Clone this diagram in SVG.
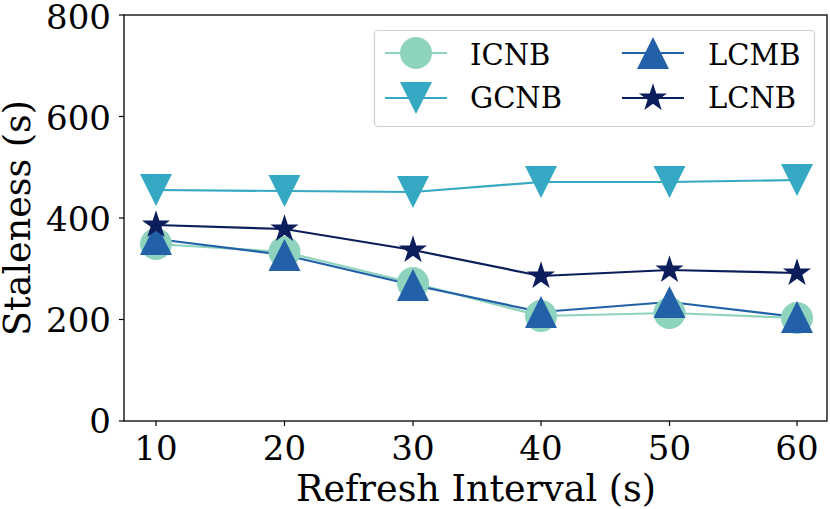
<svg xmlns="http://www.w3.org/2000/svg" width="830" height="509" viewBox="0 0 830 509">
<style>
text{font-family:"DejaVu Serif","Liberation Serif",serif;fill:#000}
.tick{font-size:34px}
.lab{font-size:36.5px}
.leg{font-size:29px}
.ax{stroke:#000;stroke-width:1.3;fill:none}
.s1{stroke:#8ed3be;fill:#8ed3be}
.s2{stroke:#35a8c4;fill:#35a8c4}
.s3{stroke:#2260a8;fill:#2260a8}
.s4{stroke:#0b1d5a;fill:#0b1d5a}
.ln{fill:none;stroke-width:2.2}
.mk{stroke:none}
</style>
<defs>
<circle id="circ" r="16"/>
<path id="tdown" d="M-16,-16 L16,-16 L0,16 Z"/>
<path id="tup" d="M-16,16 L16,16 L0,-16 Z"/>
<path id="star" d="M0,-14.8 L3.32,-4.57 L14.08,-4.57 L5.38,1.75 L8.7,11.97 L0,5.65 L-8.7,11.97 L-5.38,1.75 L-14.08,-4.57 L-3.32,-4.57 Z"/>
</defs>
<rect width="830" height="509" fill="#fff"/>
<g id="axes">
<rect class="ax" x="124" y="15" width="703" height="406"/>
<g stroke="#000" stroke-width="1.2">
<line x1="119" y1="15" x2="124" y2="15"/>
<line x1="119" y1="116.5" x2="124" y2="116.5"/>
<line x1="119" y1="218" x2="124" y2="218"/>
<line x1="119" y1="319.5" x2="124" y2="319.5"/>
<line x1="119" y1="421" x2="124" y2="421"/>
<line x1="156" y1="421" x2="156" y2="426"/>
<line x1="284.5" y1="421" x2="284.5" y2="426"/>
<line x1="413" y1="421" x2="413" y2="426"/>
<line x1="541" y1="421" x2="541" y2="426"/>
<line x1="669.5" y1="421" x2="669.5" y2="426"/>
<line x1="797" y1="421" x2="797" y2="426"/>
</g>
<g class="tick" text-anchor="end">
<text x="111" y="29">800</text>
<text x="111" y="130">600</text>
<text x="111" y="231">400</text>
<text x="111" y="332">200</text>
<text x="111" y="433">0</text>
</g>
<g class="tick" text-anchor="middle">
<text x="156" y="460">10</text>
<text x="284.5" y="460">20</text>
<text x="413" y="460">30</text>
<text x="541" y="460">40</text>
<text x="669.5" y="460">50</text>
<text x="797" y="460">60</text>
</g>
<text class="lab" x="476" y="501" text-anchor="middle">Refresh Interval (s)</text>
<text class="lab" transform="translate(30,218) rotate(-90)" text-anchor="middle">Staleness (s)</text>
</g>
<g id="connectors">
<polyline class="ln s1" points="156,244 284.5,252 413,283 541,316 669.5,313 797,318"/>
<polyline class="ln s2" points="156,190 284.5,191 413,192 541,182 669.5,182 797,180"/>
<polyline class="ln s3" points="156,239 284.5,255 413,285 541,312 669.5,302 797,317"/>
<polyline class="ln s4" points="156,225 284.5,229 413,250 541,276 669.5,270 797,273"/>
</g>
<g id="ICNB" class="s1 mk">
<use href="#circ" x="156" y="244"/><use href="#circ" x="284.5" y="252"/><use href="#circ" x="413" y="283"/><use href="#circ" x="541" y="316"/><use href="#circ" x="669.5" y="313"/><use href="#circ" x="797" y="318"/>
</g>
<g id="GCNB" class="s2 mk">
<use href="#tdown" x="156" y="190"/><use href="#tdown" x="284.5" y="191"/><use href="#tdown" x="413" y="192"/><use href="#tdown" x="541" y="182"/><use href="#tdown" x="669.5" y="182"/><use href="#tdown" x="797" y="180"/>
</g>
<g id="LCMB" class="s3 mk">
<use href="#tup" x="156" y="239"/><use href="#tup" x="284.5" y="255"/><use href="#tup" x="413" y="285"/><use href="#tup" x="541" y="312"/><use href="#tup" x="669.5" y="302"/><use href="#tup" x="797" y="317"/>
</g>
<g id="LCNB" class="s4 mk">
<use href="#star" x="156" y="225"/><use href="#star" x="284.5" y="229"/><use href="#star" x="413" y="250"/><use href="#star" x="541" y="276"/><use href="#star" x="669.5" y="270"/><use href="#star" x="797" y="273"/>
</g>
<g id="legend">
<rect x="374.5" y="30.5" width="440" height="96" rx="4" fill="#fff" fill-opacity="0.8" stroke="#d0d0d0" stroke-width="1.2"/>
<line class="ln s1" x1="385" y1="53" x2="447" y2="53"/><use class="s1 mk" href="#circ" x="416" y="53"/>
<text class="leg" x="470" y="65">ICNB</text>
<line class="ln s2" x1="385" y1="98" x2="447" y2="98"/><use class="s2 mk" href="#tdown" x="416" y="98"/>
<text class="leg" x="470" y="108">GCNB</text>
<line class="ln s3" x1="622" y1="53" x2="684" y2="53"/><use class="s3 mk" href="#tup" x="653" y="53"/>
<text class="leg" x="708" y="65">LCMB</text>
<line class="ln s4" x1="622" y1="98" x2="684" y2="98"/><use class="s4 mk" href="#star" x="653" y="98"/>
<text class="leg" x="708" y="108">LCNB</text>
</g>
</svg>
